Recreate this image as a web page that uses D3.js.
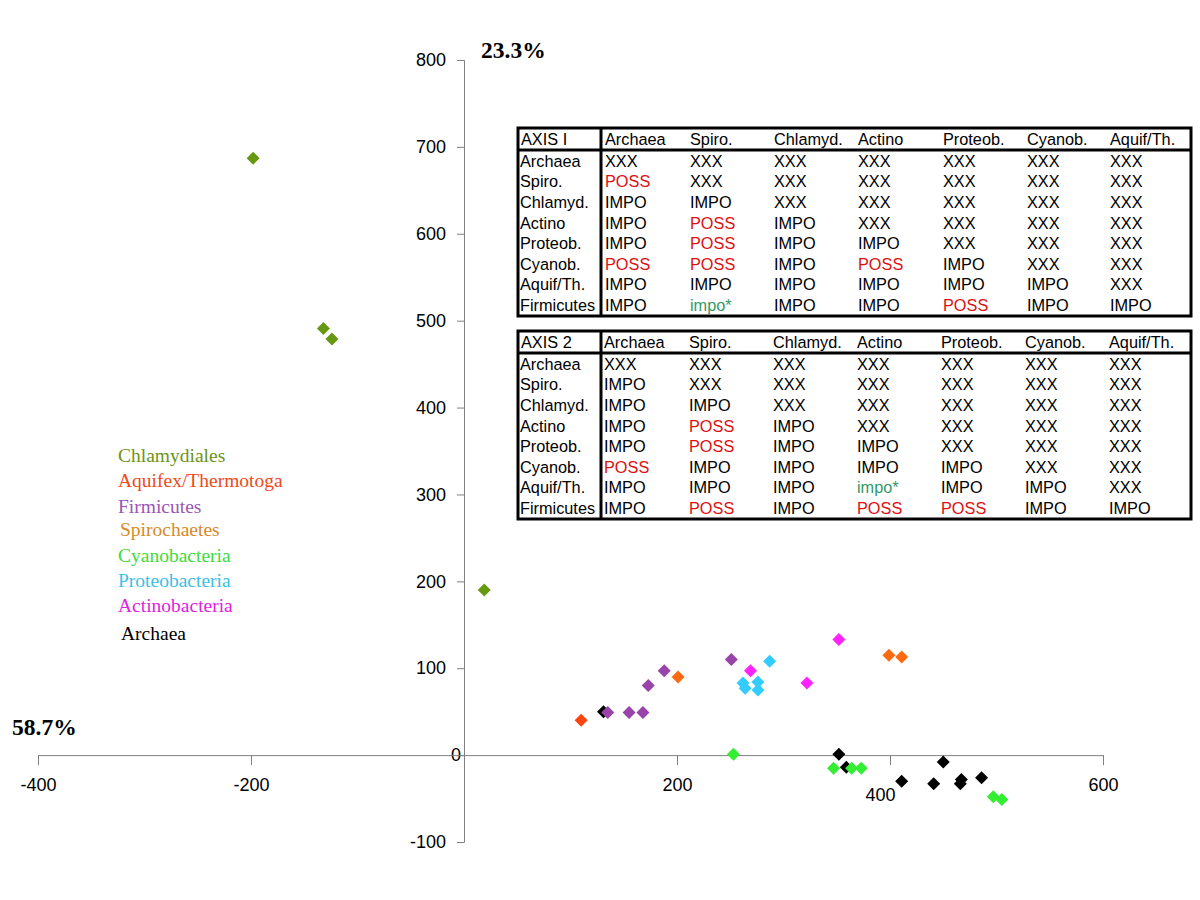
<!DOCTYPE html>
<html><head><meta charset="utf-8">
<script src="https://cdn.jsdelivr.net/npm/d3@7"></script>
<style>body{margin:0;background:#fff}</style>
</head><body>
<script>
// ---- data ----
const groups = ["Chlamydiales","Aquifex/Thermotoga","Firmicutes","Spirochaetes","Cyanobacteria","Proteobacteria","Actinobacteria","Archaea"];
const legendColors = ["#6b9419","#ee4a1a","#9a55b4","#d98a2a","#3ddc3d","#3cc0e6","#e022e0","#000000"];
const markerColors = ["#669911","#ff4411","#9944aa","#ff6a11","#33ee33","#33ccff","#ff22ff","#000000"];
const chlamX = [-198,-132,-124,19];
const chlamY = [687,491,479,190];
const aquifX = [110];
const aquifY = [40];
const firmX = [135,155,168,173,188,251];
const firmY = [49,49,49,80,97,110];
const spiroX = [201,399,411];
const spiroY = [90,115,113];
const cyanoX = [253,347,364,373,497,505];
const cyanoY = [1,-15,-15,-15,-48,-51];
const proteoX = [262,264,276,276,287];
const proteoY = [83,77,84,75,108];
const actinoX = [269,322,352];
const actinoY = [97,83,133];
const archX = [131,352,359,411,441,450,466,467,486];
const archY = [50,1,-14,-30,-33,-8,-33,-28,-26];
const xTicks = [-400,-200,200,400,600];
const yTicks = [-100,0,100,200,300,400,500,600,700,800];
const xAxisLabel = "58.7%";
const yAxisLabel = "23.3%";
const colHeads = ["Archaea","Spiro.","Chlamyd.","Actino","Proteob.","Cyanob.","Aquif/Th."];
const rowHeads = ["Archaea","Spiro.","Chlamyd.","Actino","Proteob.","Cyanob.","Aquif/Th.","Firmicutes"];
const axis1Cells = [
 ["XXX","XXX","XXX","XXX","XXX","XXX","XXX"],
 ["POSS","XXX","XXX","XXX","XXX","XXX","XXX"],
 ["IMPO","IMPO","XXX","XXX","XXX","XXX","XXX"],
 ["IMPO","POSS","IMPO","XXX","XXX","XXX","XXX"],
 ["IMPO","POSS","IMPO","IMPO","XXX","XXX","XXX"],
 ["POSS","POSS","IMPO","POSS","IMPO","XXX","XXX"],
 ["IMPO","IMPO","IMPO","IMPO","IMPO","IMPO","XXX"],
 ["IMPO","impo*","IMPO","IMPO","POSS","IMPO","IMPO"]];
const axis2Cells = [
 ["XXX","XXX","XXX","XXX","XXX","XXX","XXX"],
 ["IMPO","XXX","XXX","XXX","XXX","XXX","XXX"],
 ["IMPO","IMPO","XXX","XXX","XXX","XXX","XXX"],
 ["IMPO","POSS","IMPO","XXX","XXX","XXX","XXX"],
 ["IMPO","POSS","IMPO","IMPO","XXX","XXX","XXX"],
 ["POSS","IMPO","IMPO","IMPO","IMPO","XXX","XXX"],
 ["IMPO","IMPO","IMPO","impo*","IMPO","IMPO","XXX"],
 ["IMPO","POSS","IMPO","POSS","POSS","IMPO","IMPO"]];

const seriesX = [chlamX,aquifX,firmX,spiroX,cyanoX,proteoX,actinoX,archX];
const seriesY = [chlamY,aquifY,firmY,spiroY,cyanoY,proteoY,actinoY,archY];

// ---- drawing ----
const W=1200,H=900;
const svg=d3.select("body").append("svg").attr("width",W).attr("height",H);
const x=d3.scaleLinear().domain([-400,600]).range([38,1103]);
const y=d3.scaleLinear().domain([-100,800]).range([842,60]);
const axisColor="#808080";
const fmt=d=>String(d);

// y axis
const gy=svg.append("g").attr("transform",`translate(${x(0)},0)`)
  .call(d3.axisLeft(y).tickValues(yTicks).tickSize(7).tickPadding(11).tickFormat(fmt));
gy.select(".domain").attr("stroke",axisColor);
gy.selectAll(".tick line").attr("stroke",axisColor);
gy.selectAll(".tick text").attr("font-family","Liberation Sans, Arial, sans-serif").attr("font-size",18).attr("fill","#000");
gy.selectAll(".tick").filter(d=>d===0).select("text").attr("x",-3);

// x axis
const gx=svg.append("g").attr("transform",`translate(0,${y(0)})`)
  .call(d3.axisBottom(x).tickValues(xTicks).tickSize(10).tickPadding(13).tickFormat(fmt));
gx.select(".domain").attr("stroke",axisColor);
gx.selectAll(".tick line").attr("stroke",axisColor);
gx.selectAll(".tick text").attr("font-family","Liberation Sans, Arial, sans-serif").attr("font-size",18).attr("fill","#000");
gx.selectAll(".tick").filter(d=>d===400).select("text").attr("y",33).attr("dx",-10);

svg.append("text").attr("x",481).attr("y",58).text(yAxisLabel)
  .attr("font-family","Liberation Serif, Times New Roman, serif").attr("font-weight","bold").attr("font-size",23.5);
svg.append("text").attr("x",12).attr("y",735).text(xAxisLabel)
  .attr("font-family","Liberation Serif, Times New Roman, serif").attr("font-weight","bold").attr("font-size",23.5);

// points (Archaea first so the overlapping purple sits on top)
const diamond="M0,-6.5L6.5,0L0,6.5L-6.5,0Z";
const order=[7,0,1,3,5,6,2,4];
order.forEach(gi=>{
  svg.append("g").selectAll("path").data(seriesX[gi].map((v,i)=>[v,seriesY[gi][i]]))
   .join("path").attr("d",diamond)
   .attr("transform",d=>`translate(${x(d[0])},${y(d[1])})`)
   .attr("fill",markerColors[gi]);
});

// legend
const legY=[455,480,506,529,555,580,605,633];
const legX=[118,118,118,120,118,118,118,121];
groups.forEach((g,i)=>{
  svg.append("text").attr("x",legX[i]).attr("y",legY[i]).attr("dy","0.35em").text(g)
   .attr("fill",legendColors[i]).attr("font-family","Liberation Serif, Times New Roman, serif").attr("font-size",19.5);
});

// tables
function drawTable(title,cells,top,colX){
  const left=518,right=1191,bottom=top+188,headH=22,sep=601;
  const g=svg.append("g");
  g.append("rect").attr("x",left).attr("y",top).attr("width",right-left).attr("height",bottom-top)
    .attr("fill","none").attr("stroke","#000").attr("stroke-width",3);
  g.append("line").attr("x1",left).attr("x2",right).attr("y1",top+headH).attr("y2",top+headH).attr("stroke","#000").attr("stroke-width",3);
  g.append("line").attr("x1",sep).attr("x2",sep).attr("y1",top).attr("y2",bottom).attr("stroke","#000").attr("stroke-width",3);
  const font="Liberation Sans, Arial, sans-serif", fs=16.3;
  g.append("text").attr("x",521).attr("y",top+11).attr("dy","0.35em").text(title).attr("font-family",font).attr("font-size",fs);
  colHeads.forEach((c,j)=>g.append("text").attr("x",colX[j]).attr("y",top+11).attr("dy","0.35em").text(c).attr("font-family",font).attr("font-size",fs));
  rowHeads.forEach((r,i)=>{
    const ry=top+33+i*20.6;
    g.append("text").attr("x",520).attr("y",ry).attr("dy","0.35em").text(r).attr("font-family",font).attr("font-size",fs);
    cells[i].forEach((c,j)=>{
      const col=c==="POSS"?"#dd1111":(c==="impo*"?"#339966":"#000");
      g.append("text").attr("x",colX[j]).attr("y",ry).attr("dy","0.35em").text(c).attr("fill",col).attr("font-family",font).attr("font-size",fs);
    });
  });
}
drawTable("AXIS I",axis1Cells,128,[605,690,774,858,943,1027,1110]);
drawTable("AXIS 2",axis2Cells,331,[604,689,773,857,941,1025,1109]);
</script>
</body></html>
